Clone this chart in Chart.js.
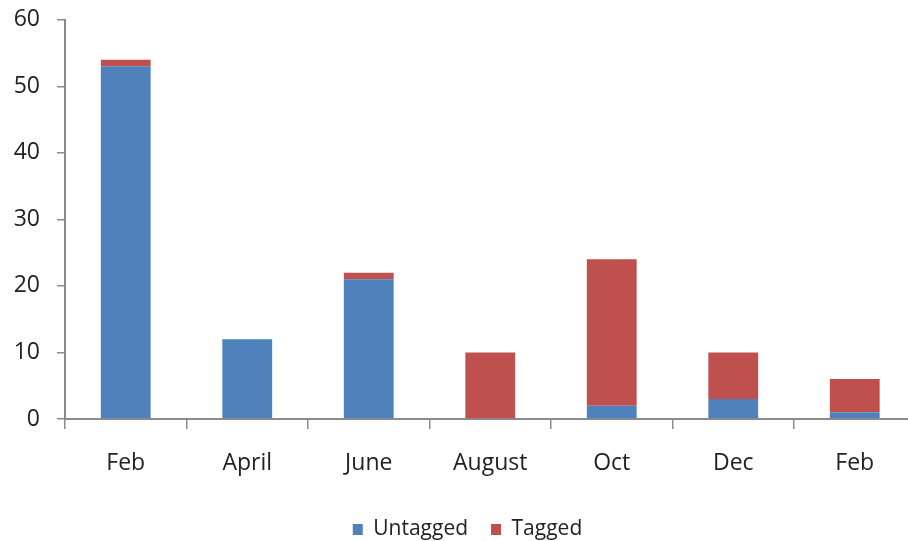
<!DOCTYPE html>
<html>
<head>
<meta charset="utf-8">
<script src="https://cdn.jsdelivr.net/npm/chart.js@4"></script>
<style>
html,body{margin:0;padding:0;background:#fff;overflow:hidden;}
#wrap{position:absolute;left:0;top:-11px;width:935px;height:561px;}
</style>
</head>
<body>
<div id="wrap"><canvas id="c"></canvas></div>
<script>
const categories = ["Feb","April","June","August","Oct","Dec","Feb"];
const untagged = [53, 12, 21, 0, 2, 3, 1];
const tagged = [1, 0, 1, 10, 22, 7, 5];
const yTicks = [0,10,20,30,40,50,60];

const axisColor = '#8c8c8c';
const textColor = '#222';
const fontFamily = '"Open Sans", "Noto Sans", sans-serif';

new Chart(document.getElementById('c'), {
  type: 'bar',
  data: {
    labels: categories,
    datasets: [
      {label: 'Untagged', data: untagged, backgroundColor: '#4F81BD', borderWidth: 0},
      {label: 'Tagged', data: tagged, backgroundColor: '#C0504D', borderWidth: 0}
    ]
  },
  options: {
    responsive: true,
    maintainAspectRatio: false,
    animation: false,
    layout: {padding: {left: 0, right: 0, top: 0, bottom: 0}},
    datasets: {bar: {categoryPercentage: 1, barPercentage: 0.41}},
    plugins: {
      tooltip: {enabled: false},
      legend: {
        position: 'bottom',
        labels: {
          boxWidth: 10, boxHeight: 11, padding: 23,
          color: textColor,
          font: {family: fontFamily, size: 21}
        }
      }
    },
    scales: {
      x: {
        stacked: true,
        grid: {display: true, drawOnChartArea: false, drawTicks: true, tickLength: 10, color: axisColor, lineWidth: 1.5, offset: true},
        border: {display: true, color: axisColor, width: 2},
        ticks: {color: textColor, font: {family: fontFamily, size: 23}, padding: 21, maxRotation: 0},
        afterFit: (s) => { s.height = 77; }
      },
      y: {
        stacked: true,
        min: 0, max: 60,
        afterBuildTicks: (s) => { s.ticks = yTicks.map(v => ({value: v})); },
        grid: {display: true, drawOnChartArea: false, drawTicks: true, tickLength: 8, color: axisColor, lineWidth: 1.5},
        border: {display: true, color: axisColor, width: 2},
        ticks: {color: textColor, font: {family: fontFamily, size: 23}, padding: 17},
        afterFit: (s) => { s.width = 65; }
      },
      spacer: {
        type: 'linear',
        position: 'right',
        display: true,
        grid: {display: false, drawTicks: false},
        border: {display: false},
        ticks: {display: false},
        afterFit: (s) => { s.width = 19.5; }
      }
    }
  }
});
</script>
</body>
</html>
